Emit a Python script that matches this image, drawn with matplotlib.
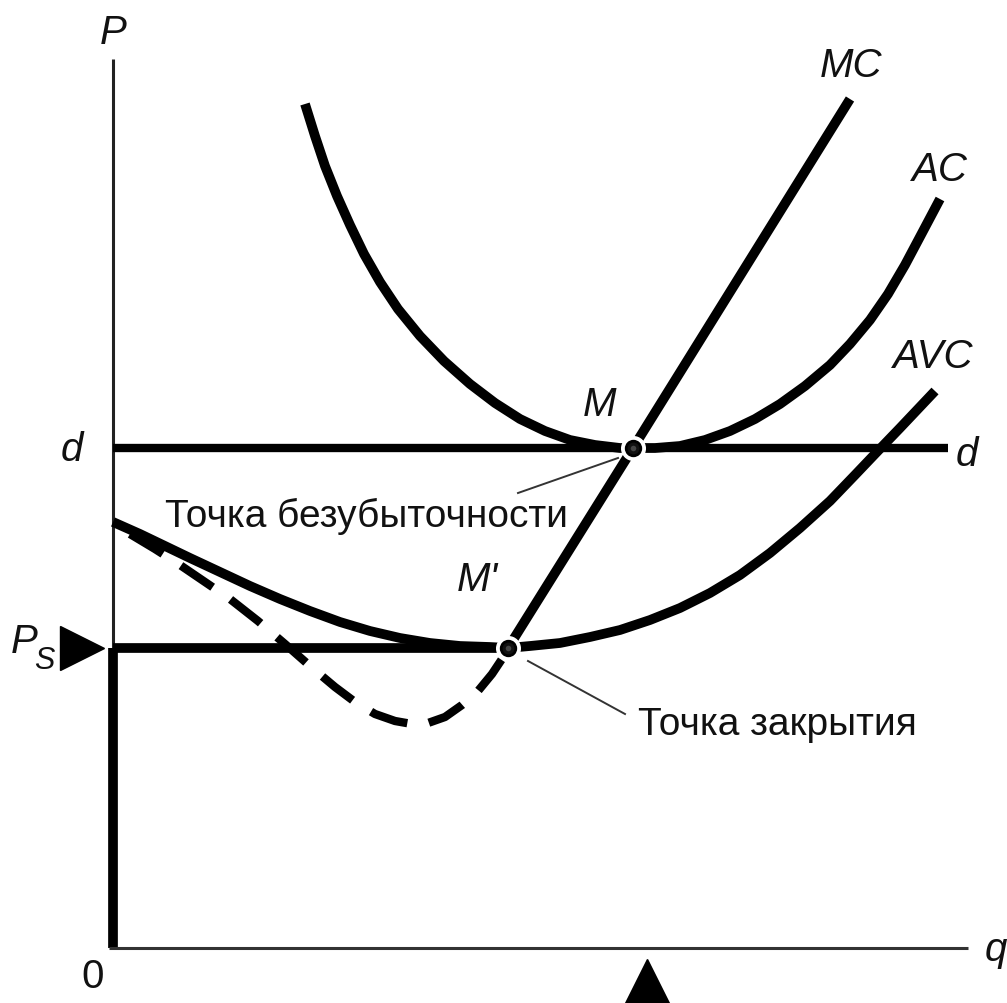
import matplotlib
matplotlib.use("Agg")
import matplotlib.pyplot as plt

plt.rcParams['font.family'] = ['Liberation Sans', 'DejaVu Sans']

# ---- data (economic units: q on x, P on y) ----
P_S = 3.0
P_D = 5.0
M = (5.2, 5.0)
M_PRIME = (3.95, 3.0)

mc_q = [3.95, 5.2, 7.37]
mc_p = [3.0, 5.0, 8.49]

mc_low_q = [0.17, 0.42, 0.67, 0.92, 1.17, 1.45, 1.72, 1.97, 2.22, 2.42,
            2.62, 2.82, 2.99, 3.15, 3.32, 3.49, 3.65, 3.79, 3.89, 3.95]
mc_low_p = [4.14, 3.99, 3.83, 3.66, 3.49, 3.27, 3.04, 2.82, 2.61, 2.46,
            2.34, 2.27, 2.24, 2.25, 2.31, 2.43, 2.57, 2.74, 2.89, 3.0]

ac_q = [1.92, 2.02, 2.12, 2.24, 2.37, 2.51, 2.67, 2.85, 3.07, 3.31,
        3.57, 3.82, 4.07, 4.32, 4.57, 4.82, 5.07, 5.2,
        5.42, 5.67, 5.92, 6.17, 6.42, 6.67, 6.92, 7.17, 7.37, 7.57,
        7.75, 7.92, 8.09, 8.27]
ac_p = [8.44, 8.12, 7.82, 7.52, 7.23, 6.94, 6.66, 6.39, 6.12, 5.87,
        5.64, 5.45, 5.29, 5.17, 5.08, 5.03, 5.0, 5.0,
        5.0, 5.02, 5.08, 5.17, 5.29, 5.44, 5.62, 5.83, 6.04, 6.28,
        6.54, 6.83, 7.15, 7.49]

avc_q = [0.0, 0.27, 0.52, 0.77, 1.07, 1.37, 1.67, 1.97, 2.27, 2.57,
         2.87, 3.17, 3.47, 3.77, 3.95,
         4.17, 4.47, 4.77, 5.07, 5.37, 5.67, 5.97, 6.27, 6.57, 6.87,
         7.17, 7.42, 7.62, 7.87, 8.22]
avc_p = [4.26, 4.14, 4.02, 3.90, 3.76, 3.62, 3.49, 3.37, 3.26, 3.17,
         3.10, 3.05, 3.02, 3.01, 3.0,
         3.02, 3.05, 3.11, 3.18, 3.28, 3.40, 3.55, 3.73, 3.95, 4.20,
         4.47, 4.73, 4.94, 5.20, 5.57]

Q_AXIS_END = 8.55
P_AXIS_TOP = 8.89
D_END = 8.35
Q_MARK = 5.34

curve_labels = ["MC", "AC", "AVC"]
text_break_even = "Точка безубыточности"
text_shutdown = "Точка закрытия"

# ---- figure ----
fig = plt.figure(figsize=(10.07, 10.04), dpi=100)
ax = fig.add_axes([0, 0, 1, 1])
ax.set_xlim(-1.13, 8.94)
ax.set_ylim(-0.55, 9.49)
ax.axis('off')

K = 'black'
# axes
ax.plot([0, 0], [P_S, P_AXIS_TOP], color='#222222', lw=2.2, solid_capstyle='butt')
ax.plot([0, 0], [0, P_S], color=K, lw=7, solid_capstyle='butt')
ax.plot([-0.035, Q_AXIS_END], [0, 0], color='#333333', lw=2.2, solid_capstyle='butt')

# horizontal lines
ax.plot([0, D_END], [P_D, P_D], color=K, lw=6, solid_capstyle='butt')
ax.plot([0, M_PRIME[0]], [P_S, P_S], color=K, lw=7, solid_capstyle='butt')

# curves
ax.plot(ac_q, ac_p, color=K, lw=7, solid_capstyle='butt', solid_joinstyle='round')
ax.plot(avc_q, avc_p, color=K, lw=7, solid_capstyle='butt', solid_joinstyle='round')
ax.plot(mc_q, mc_p, color=K, lw=7, solid_capstyle='butt')
ln, = ax.plot(mc_low_q, mc_low_p, color=K, lw=6, dash_capstyle='butt',
              dash_joinstyle='round')
ln.set_dashes((4.6, 2.6))

# leader lines
ax.plot([4.05, 5.05], [4.55, 4.90], color='#333333', lw=1.4)
ax.plot([4.15, 5.12], [2.87, 2.34], color='#333333', lw=1.4)

# points
for (qq, pp) in (M, M_PRIME):
    ax.plot(qq, pp, 'o', ms=17, mfc='white', mec='white', zorder=5)
    ax.plot(qq, pp, 'o', ms=10.5, mfc='#111111', mec='black', mew=2, zorder=6)
    ax.plot(qq, pp, 'o', ms=4, mfc='#444444', mec='none', zorder=7)

# triangles
ax.plot(-0.305, P_S, '>', ms=31, color=K, zorder=4)
ax.plot(Q_MARK, -0.335, '^', ms=32.5, color=K, clip_on=False, zorder=4)

FAM = 'Liberation Sans'
fs = 29
it = dict(fontsize=fs, style='italic', ha='center', va='center', color='#111111',
          family=FAM)
ax.text(0.0, 9.16, "P", **it)
ax.text(7.38, 8.83, curve_labels[0], **it)
ax.text(8.27, 7.79, curve_labels[1], **it)
ax.text(8.2, 5.92, curve_labels[2], **it)
ax.text(4.87, 5.44, "M", **it)
ax.text(3.64, 3.69, "M'", **it)
ax.text(-0.41, 4.99, "d", **it)
ax.text(8.54, 4.94, "d", **it)
ax.text(-0.89, 3.07, "P", **it)
ax.text(-0.69, 2.88, "S", fontsize=22, style='italic', ha='center', va='center',
        color='#111111', family=FAM)
ax.text(-0.2, -0.28, "0", fontsize=fs, ha='center', va='center', color='#111111',
        family=FAM)
ax.text(8.83, -0.01, "q", **it)

rus = dict(fontsize=28, ha='left', va='baseline', color='#111111', family=FAM)
ax.text(0.52, 4.22, text_break_even, **rus)
ax.text(5.25, 2.14, text_shutdown, **rus)

fig.savefig("out.png", dpi=100)
